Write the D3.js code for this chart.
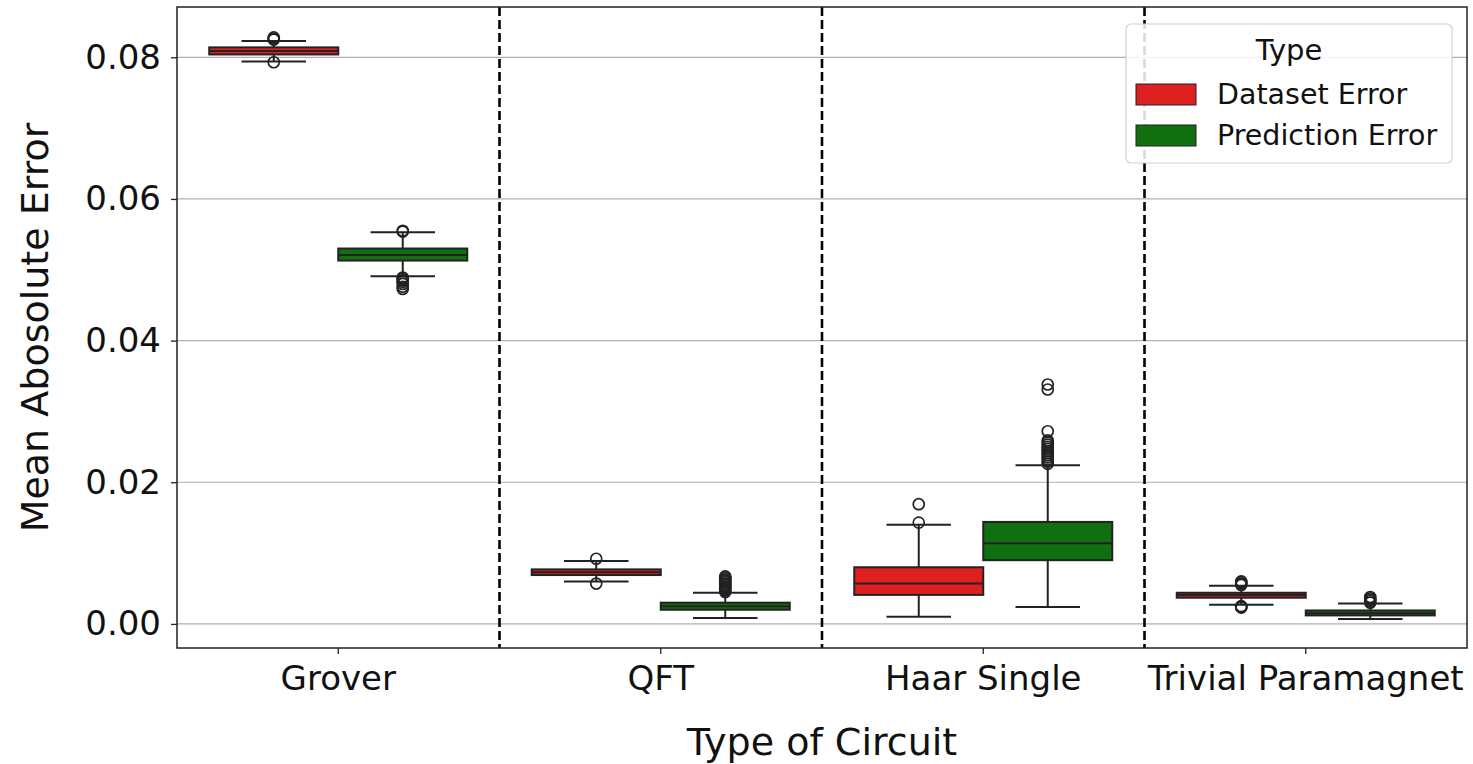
<!DOCTYPE html>
<html>
<head>
<meta charset="utf-8">
<script src="https://cdn.jsdelivr.net/npm/d3@7"></script>
<style>
  body { margin: 0; background: #fff; }
  text { font-family: 'DejaVu Sans', sans-serif; fill: #111; }
</style>
</head>
<body>
<svg></svg>
<script>
const categories = ['Grover', 'QFT', 'Haar Single', 'Trivial Paramagnet'];
const types = ['Dataset Error', 'Prediction Error'];
const typeColors = ['#df2020', '#107010'];
const yTicks = [0, 0.02, 0.04, 0.06, 0.08];

// [lower whisker, q1, median, q3, upper whisker] per category
const datasetStats = [
  [0.0794, 0.0804, 0.0809, 0.0814, 0.0823],
  [0.0060, 0.0069, 0.0073, 0.0077, 0.0089],
  [0.0010, 0.0041, 0.0057, 0.0080, 0.0140],
  [0.0027, 0.0037, 0.0041, 0.0044, 0.0054]
];
const predictionStats = [
  [0.0491, 0.0513, 0.0521, 0.0530, 0.0553],
  [0.00085, 0.0020, 0.0025, 0.0030, 0.0044],
  [0.0024, 0.0090, 0.0114, 0.0144, 0.0224],
  [0.0007, 0.0012, 0.0015, 0.0019, 0.0029]
];
const datasetOutliers = [
  [0.0825, 0.0826, 0.0828, 0.0793],
  [0.0092, 0.0057],
  [0.0143, 0.0169],
  [0.0055, 0.0057, 0.0059, 0.0060, 0.0025, 0.0024, 0.0023]
];
const predictionOutliers = [
  [0.0554, 0.0555, 0.0489, 0.0487, 0.0485, 0.0483, 0.0480, 0.0476, 0.0473],
  [0.0045, 0.0047, 0.0049, 0.0051, 0.0053, 0.0055, 0.0057, 0.0059, 0.0061, 0.0063, 0.0065, 0.0067],
  [0.0226, 0.0229, 0.0232, 0.0235, 0.0238, 0.0241, 0.0244, 0.0247, 0.0250, 0.0253, 0.0256, 0.0259, 0.0272, 0.0331, 0.0338],
  [0.0030, 0.0032, 0.0034, 0.0036, 0.0038]
];

const width = 1473;
const height = 764;
const margin = { left: 177, right: 6, top: 7, bottom: 116 };
const lineColor = '#222';

const svg = d3.select('svg')
  .attr('width', width)
  .attr('height', height);

const x = d3.scaleBand()
  .domain(categories)
  .range([margin.left, width - margin.right]);
const xInner = d3.scaleBand()
  .domain(types)
  .range([x.bandwidth() * 0.1, x.bandwidth() * 0.9]);
const y = d3.scaleLinear()
  .domain([-0.0034, 0.0871])
  .range([height - margin.bottom, margin.top]);

// grid
svg.append('g')
  .selectAll('line')
  .data(yTicks)
  .enter()
  .append('line')
  .attr('x1', margin.left)
  .attr('x2', width - margin.right)
  .attr('y1', d => y(d))
  .attr('y2', d => y(d))
  .attr('stroke', '#b0b0b0')
  .attr('stroke-width', 1.2);

// boxes
const series = [
  { stats: datasetStats, outliers: datasetOutliers },
  { stats: predictionStats, outliers: predictionOutliers }
];
const bw = xInner.bandwidth();
series.forEach((s, ti) => {
  const g = svg.append('g');
  categories.forEach((cat, ci) => {
    const [lo, q1, med, q3, hi] = s.stats[ci];
    const x0 = x(cat) + xInner(types[ti]);
    const cx = x0 + bw / 2;
    const bg = g.append('g');
    bg.append('line')
      .attr('x1', cx).attr('x2', cx)
      .attr('y1', y(hi)).attr('y2', y(q3))
      .attr('stroke', lineColor).attr('stroke-width', 2);
    bg.append('line')
      .attr('x1', cx).attr('x2', cx)
      .attr('y1', y(q1)).attr('y2', y(lo))
      .attr('stroke', lineColor).attr('stroke-width', 2);
    [lo, hi].forEach(v => {
      bg.append('line')
        .attr('x1', cx - bw / 4).attr('x2', cx + bw / 4)
        .attr('y1', y(v)).attr('y2', y(v))
        .attr('stroke', lineColor).attr('stroke-width', 2);
    });
    bg.append('rect')
      .attr('x', x0)
      .attr('y', y(q3))
      .attr('width', bw)
      .attr('height', y(q1) - y(q3))
      .attr('fill', typeColors[ti])
      .attr('stroke', lineColor)
      .attr('stroke-width', 2);
    bg.append('line')
      .attr('x1', x0).attr('x2', x0 + bw)
      .attr('y1', y(med)).attr('y2', y(med))
      .attr('stroke', lineColor).attr('stroke-width', 2);
    bg.selectAll('circle')
      .data(s.outliers[ci])
      .enter()
      .append('circle')
      .attr('cx', cx)
      .attr('cy', d => y(d))
      .attr('r', 5.5)
      .attr('fill', 'none')
      .attr('stroke', lineColor)
      .attr('stroke-width', 1.7);
  });
});

// dividers between categories
svg.append('g')
  .selectAll('line')
  .data(categories.slice(1))
  .enter()
  .append('line')
  .attr('x1', d => x(d))
  .attr('x2', d => x(d))
  .attr('y1', margin.top)
  .attr('y2', height - margin.bottom)
  .attr('stroke', '#000')
  .attr('stroke-width', 2.6)
  .attr('stroke-dasharray', '9,4');

// axes
const yAxis = svg.append('g')
  .attr('transform', `translate(${margin.left},0)`)
  .call(d3.axisLeft(y).tickValues(yTicks).tickFormat(d3.format('.2f')).tickSize(6).tickPadding(10));
const xAxis = svg.append('g')
  .attr('transform', `translate(0,${height - margin.bottom})`)
  .call(d3.axisBottom(x).tickSize(6).tickPadding(12));
[yAxis, xAxis].forEach(a => {
  a.select('.domain').remove();
  a.selectAll('.tick line').attr('stroke', '#222').attr('stroke-width', 1.3);
  a.selectAll('.tick text').style('font-size', '34px').style('font-family', "'DejaVu Sans', sans-serif").attr('fill', '#111');
});

svg.append('rect')
  .attr('x', margin.left)
  .attr('y', margin.top)
  .attr('width', width - margin.left - margin.right)
  .attr('height', height - margin.top - margin.bottom)
  .attr('fill', 'none')
  .attr('stroke', '#222')
  .attr('stroke-width', 1.5);

// axis titles
svg.append('text')
  .attr('x', (margin.left + width - margin.right) / 2)
  .attr('y', 755)
  .attr('text-anchor', 'middle')
  .style('font-size', '38px')
  .text('Type of Circuit');
svg.append('text')
  .attr('transform', `translate(48,${(margin.top + height - margin.bottom) / 2}) rotate(-90)`)
  .attr('text-anchor', 'middle')
  .style('font-size', '38px')
  .text('Mean Abosolute Error');

// legend
const legend = svg.append('g').attr('transform', 'translate(1126,24)');
legend.append('rect')
  .attr('width', 326)
  .attr('height', 139)
  .attr('rx', 5)
  .attr('fill', 'rgba(255,255,255,0.85)')
  .attr('stroke', '#d0d0d0')
  .attr('stroke-width', 1.2);
legend.append('text')
  .attr('x', 163)
  .attr('y', 36)
  .attr('text-anchor', 'middle')
  .style('font-size', '29px')
  .text('Type');
const item = legend.selectAll('.item')
  .data(types)
  .enter()
  .append('g')
  .attr('class', 'item')
  .attr('transform', (d, i) => `translate(10,${60 + i * 41})`);
item.append('rect')
  .attr('width', 60)
  .attr('height', 21)
  .attr('fill', (d, i) => typeColors[i])
  .attr('stroke', lineColor)
  .attr('stroke-width', 1);
item.append('text')
  .attr('x', 81)
  .attr('y', 20)
  .style('font-size', '28.5px')
  .text(d => d);
</script>
</body>
</html>
